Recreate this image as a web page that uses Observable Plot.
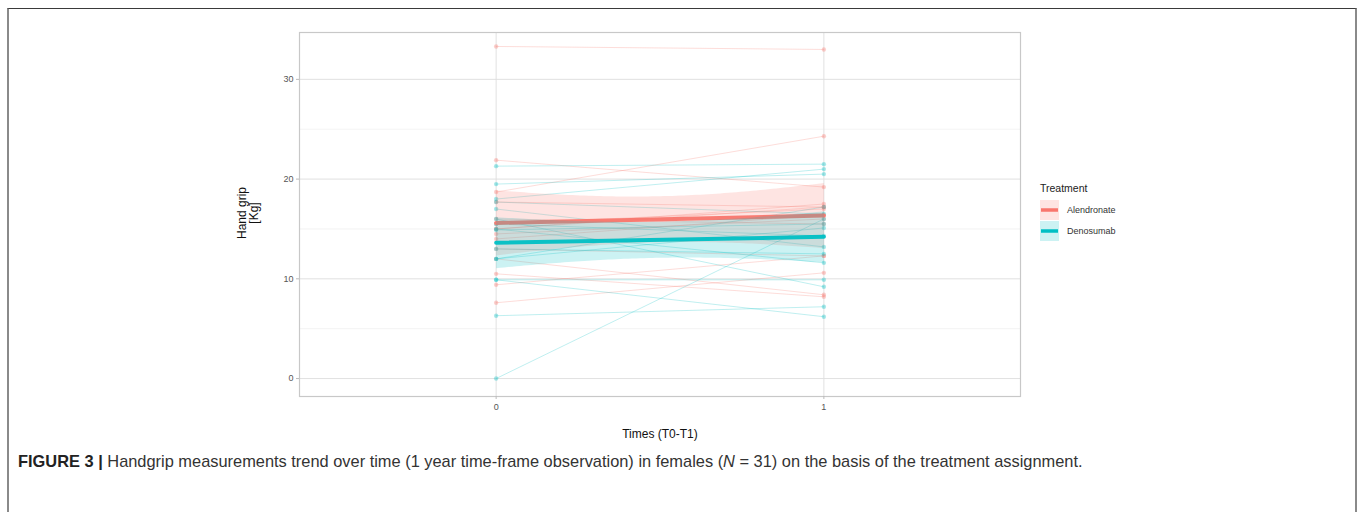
<!DOCTYPE html>
<html><head><meta charset="utf-8">
<script src="https://cdn.jsdelivr.net/npm/d3@7"></script>
<script src="https://cdn.jsdelivr.net/npm/@observablehq/plot@0.6"></script>
<style>
body{margin:0;background:#fff;font-family:"Liberation Sans",Arial,sans-serif;}
#wrap{position:relative;width:1358px;height:512px;overflow:hidden;}
#frame{position:absolute;left:7px;top:8px;width:1346px;height:600px;border-top:1.5px solid #3a3a3a;border-left:2px solid #8a8a8a;border-right:2px solid #8a8a8a;}
#chart{position:absolute;left:0;top:0;}
.ytitle{position:absolute;left:248px;top:213px;transform:translate(-50%,-50%) rotate(-90deg);font-size:12px;line-height:12px;color:#111;text-align:center;white-space:nowrap;}
.xtitle{position:absolute;left:660px;top:434px;transform:translate(-50%,-50%);font-size:12px;color:#111;white-space:nowrap;}
#legend{position:absolute;left:1040px;top:182px;font-size:9px;color:#333;}
#legend .title{font-size:10.5px;color:#222;margin-bottom:5px;}
#legend .item{display:flex;align-items:center;height:21px;}
#legend .item span{margin-left:8px;}
#caption{position:absolute;left:18px;top:452px;font-size:16.4px;color:#333;white-space:nowrap;}
#caption b{color:#222;}
</style></head>
<body>
<div id="wrap">
  <div id="frame"></div>
  <div id="chart"></div>
  <div class="ytitle">Hand grip<br>[Kg]</div>
  <div class="xtitle">Times (T0-T1)</div>
  <div id="legend"></div>
  <div id="caption"><b>FIGURE 3 |</b> Handgrip measurements trend over time (1 year time-frame observation) in females (<i>N</i> = 31) on the basis of the treatment assignment.</div>
</div>
<script>
const treatments = ["Alendronate", "Denosumab"];
const colors = ["#F8766D", "#00BFC4"];
const times = [0, 1];
const timeTicks = [0, 1];
const yTicks = [0, 10, 20, 30];
const yMinorTicks = [5, 15, 25];

// Alendronate patients: hand grip at T0 and T1 (Kg)
const alendronateT0 = [33.3, 21.9, 18.7, 17.7, 15.0, 14.0, 16.0, 15.5, 15.0, 14.5, 13.0, 12.0, 10.5, 9.4, 7.6];
const alendronateT1 = [33.0, 19.2, 24.3, 17.2, 17.2, 16.4, 15.5, 17.0, 17.5, 16.0, 12.3, 8.4, 8.2, 12.3, 10.6];
// Denosumab patients: hand grip at T0 and T1 (Kg)
const denosumabT0 = [21.3, 19.5, 17.7, 18.0, 17.0, 16.0, 15.5, 15.0, 14.9, 13.0, 12.0, 9.9, 9.9, 12.0, 6.3, 0.0];
const denosumabT1 = [21.5, 20.5, 16.5, 21.0, 13.2, 9.2, 14.3, 11.6, 15.5, 12.5, 15.1, 9.9, 6.2, 17.2, 7.2, 16.0];

const rows = [];
[[treatments[0], alendronateT0, alendronateT1], [treatments[1], denosumabT0, denosumabT1]].forEach(([tr, a, b]) => {
  a.forEach((v, i) => {
    const id = tr + i;
    rows.push({id, treatment: tr, time: times[0], value: v});
    rows.push({id, treatment: tr, time: times[1], value: b[i]});
  });
});

const plot = Plot.plot({
  width: 1358,
  height: 450,
  marginLeft: 299,
  marginRight: 338,
  marginTop: 32,
  marginBottom: 54,
  style: {fontFamily: "Liberation Sans, Arial, sans-serif", background: "transparent"},
  x: {domain: [-0.6, 1.6], axis: null},
  y: {domain: [-1.8, 34.7], axis: null},
  color: {domain: treatments, range: colors},
  marks: [
    Plot.gridY(yMinorTicks, {stroke: "#ebebeb", strokeOpacity: 1, strokeWidth: 0.6}),
    Plot.gridY(yTicks, {stroke: "#dedede", strokeOpacity: 1, strokeWidth: 0.9}),
    Plot.gridX(timeTicks, {stroke: "#dedede", strokeOpacity: 1, strokeWidth: 0.9}),
    Plot.frame({stroke: "#c8c8c8", strokeWidth: 1.2}),
    Plot.axisY(yTicks, {tickSize: 3, stroke: "#bbb", fill: "#555", fontSize: 9, tickPadding: 3, label: null}),
    Plot.axisX(timeTicks, {tickSize: 3, stroke: "#bbb", fill: "#555", fontSize: 9, tickPadding: 4, tickFormat: d => String(d), label: null}),
    Plot.line(rows, {x: "time", y: "value", z: "id", stroke: "treatment", strokeOpacity: 0.25, strokeWidth: 1}),
    Plot.dot(rows, {x: "time", y: "value", fill: "treatment", fillOpacity: 0.35, r: 2.2, stroke: "none"}),
    Plot.linearRegressionY(rows, {x: "time", y: "value", stroke: "treatment", fill: "treatment", fillOpacity: 0.2, strokeWidth: 4, strokeOpacity: 0.95})
  ]
});
document.getElementById("chart").appendChild(plot);

const legend = d3.select("#legend");
legend.append("div").attr("class", "title").text("Treatment");
treatments.forEach((t, i) => {
  const item = legend.append("div").attr("class", "item");
  const s = item.append("svg").attr("width", 19).attr("height", 20);
  s.append("rect").attr("width", 19).attr("height", 20).attr("fill", colors[i]).attr("fill-opacity", 0.2);
  s.append("line").attr("x1", 1).attr("x2", 18).attr("y1", 10).attr("y2", 10).attr("stroke", colors[i]).attr("stroke-width", 3.5);
  item.append("span").text(t);
});
</script>
</body></html>
